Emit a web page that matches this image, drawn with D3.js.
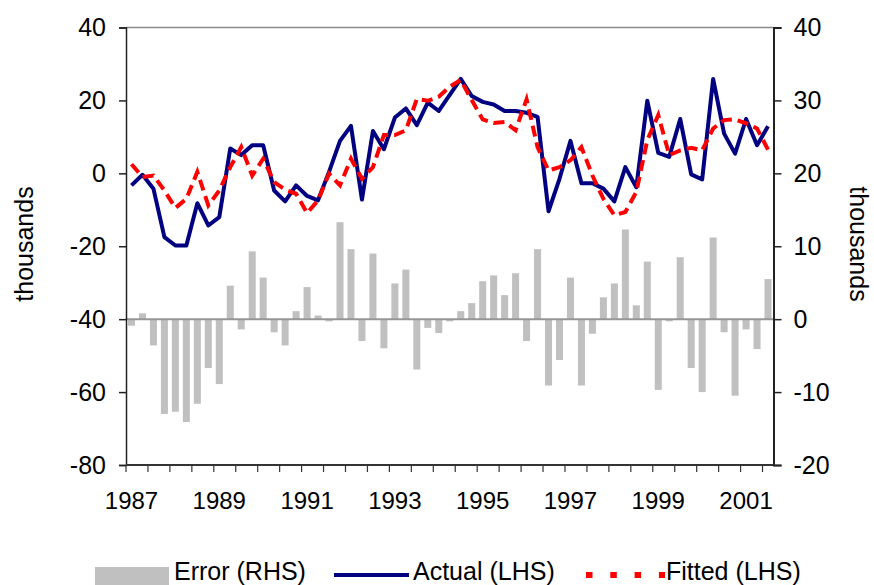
<!DOCTYPE html>
<html>
<head>
<meta charset="utf-8">
<script src="https://cdn.jsdelivr.net/npm/d3@7"></script>
<style>
  html, body { margin: 0; padding: 0; background: #fff; }
  svg { display: block; font-family: "Liberation Sans", Arial, sans-serif; }
</style>
</head>
<body>
<svg id="chart" width="874" height="585"></svg>
<script>
// ---- data ----
const years = [1987, 1988, 1989, 1990, 1991, 1992, 1993, 1994, 1995, 1996, 1997, 1998, 1999, 2000, 2001];
const quarters = ["Q1", "Q2", "Q3", "Q4"];
const categories = [];
years.forEach(y => quarters.forEach(q => categories.push(y + q)));
categories.splice(59); // 1987Q1 .. 2001Q3

const tickLabels = ["1987", "1989", "1991", "1993", "1995", "1997", "1999", "2001"];
const leftTicks = [40, 20, 0, -20, -40, -60, -80];
const rightTicks = [40, 30, 20, 10, 0, -10, -20];

const actual = [-3.3,-0.4,-4.2,-17.5,-19.8,-19.8,-8.2,-14.3,-12.0,6.8,
                5.0,7.7,7.7,-4.7,-7.7,-3.3,-6.2,-7.4,0.4,8.9,
                13.0,-7.2,11.6,6.6,15.3,17.8,13.2,19.4,17.1,21.5,
                25.9,21.2,19.6,18.9,17.1,17.1,16.6,15.5,-10.4,-1.5,
                8.9,-2.7,-2.7,-4.2,-7.7,1.7,-3.8,19.9,5.6,4.5,
                14.9,-0.3,-1.7,25.9,10.9,5.4,14.9,7.7,12.9];

const fitted = [2.5,-1.0,-0.6,-4.7,-9.5,-7.0,0.4,-8.8,-4.7,1.7,
                7.2,-0.6,4.0,-2.4,-4.5,-5.6,-10.9,-7.4,-0.1,-3.3,
                4.0,-1.5,1.7,10.5,10.5,11.8,20.4,19.9,21.0,23.8,
                25.6,20.1,14.8,13.8,14.1,11.8,20.3,7.2,0.8,1.7,
                3.6,7.2,-0.6,-7.0,-11.5,-10.6,-5.1,9.1,16.0,5.0,
                6.3,7.0,6.3,12.3,14.6,14.8,13.7,12.3,6.5];

const errors = [-0.9,0.8,-3.6,-13.0,-12.7,-14.1,-11.6,-6.7,-8.9,4.6,
                -1.4,9.3,5.7,-1.8,-3.6,1.1,4.4,0.5,-0.3,13.3,
                9.6,-3.0,9.0,-4.0,4.9,6.8,-6.9,-1.2,-1.9,-0.3,
                1.1,2.2,5.2,6.0,3.3,6.3,-3.0,9.6,-9.1,-5.6,
                5.7,-9.1,-2.0,3.0,4.9,12.3,1.9,7.9,-9.7,-0.3,
                8.5,-6.7,-10.0,11.2,-1.8,-10.5,-1.4,-4.1,5.5];

const legendLabels = ["Error (RHS)", "Actual (LHS)", "Fitted (LHS)"];

// ---- layout ----
const svg = d3.select("#chart");
const L = 126, R = 773.5, T = 27.5, B = 465;
const FONT = "Liberation Sans, Arial, sans-serif";

const x = d3.scaleBand().domain(categories).range([L, R]).paddingInner(0).paddingOuter(0);
const cx = d => x(d) + x.bandwidth() / 2;
const yL = d3.scaleLinear().domain([-80, 40]).range([B, T]);
const yR = d3.scaleLinear().domain([-20, 40]).range([B, T]);
const fmt = d => String(d); // plain hyphen-minus like the reference

// top border
svg.append("line").attr("x1", L).attr("x2", R).attr("y1", T).attr("y2", T)
  .attr("stroke", "#8c8c8c").attr("stroke-width", 1.5);

// bars (RHS)
const bw = x.bandwidth() * 0.64;
svg.append("g").selectAll("rect").data(errors).join("rect")
  .attr("x", (d, i) => cx(categories[i]) - bw / 2)
  .attr("width", bw)
  .attr("y", d => Math.min(yR(d), yR(0)))
  .attr("height", d => Math.abs(yR(d) - yR(0)))
  .attr("fill", "#c0c0c0");

// zero line of the RHS
svg.append("line").attr("x1", L).attr("x2", R).attr("y1", yR(0)).attr("y2", yR(0))
  .attr("stroke", "#969696").attr("stroke-width", 2);

// lines
const lineGen = d3.line().x((d, i) => cx(categories[i])).y(d => yL(d));
svg.append("path").datum(actual).attr("d", lineGen)
  .attr("fill", "none").attr("stroke", "#000080").attr("stroke-width", 4)
  .attr("stroke-linejoin", "round");
svg.append("path").datum(fitted).attr("d", lineGen)
  .attr("fill", "none").attr("stroke", "#ff0000").attr("stroke-width", 4)
  .attr("stroke-dasharray", "11,6");

// left axis
const axL = d3.axisLeft(yL).tickValues(leftTicks).tickSize(7).tickPadding(13).tickFormat(fmt);
const gL = svg.append("g").attr("transform", `translate(${L},0)`).call(axL);
gL.select(".domain").attr("stroke", "#222").attr("stroke-width", 1.5);
gL.selectAll(".tick line").attr("stroke", "#222").attr("stroke-width", 1.5);
gL.selectAll("text").attr("font-size", 25).attr("fill", "#000").attr("font-family", FONT);

// right axis
const axR = d3.axisRight(yR).tickValues(rightTicks).tickSize(8).tickPadding(12).tickFormat(fmt);
const gR = svg.append("g").attr("transform", `translate(${R},0)`).call(axR);
gR.select(".domain").attr("stroke", "#222").attr("stroke-width", 2);
gR.selectAll(".tick line").attr("stroke", "#222").attr("stroke-width", 1.5);
gR.selectAll("text").attr("font-size", 25).attr("fill", "#000").attr("font-family", FONT);

// bottom axis: ticks every 2 quarters at category boundaries
const tickCats = categories.filter((c, i) => i % 2 === 0);
const gB = svg.append("g");
gB.append("line").attr("x1", L).attr("x2", R).attr("y1", B).attr("y2", B)
  .attr("stroke", "#333").attr("stroke-width", 2);
gB.selectAll("line.t").data(tickCats).join("line").attr("class", "t")
  .attr("x1", d => x(d)).attr("x2", d => x(d)).attr("y1", B).attr("y2", B + 7)
  .attr("stroke", "#333").attr("stroke-width", 1.2);
gB.selectAll("text").data(tickLabels).join("text")
  .attr("x", d => cx(d + "Q1"))
  .attr("y", 509)
  .attr("text-anchor", "middle")
  .attr("font-size", 24)
  .text(d => d);

// axis titles
svg.append("text").attr("transform", "translate(33,244) rotate(-90)")
  .attr("text-anchor", "middle").attr("font-size", 25).text("thousands");
svg.append("text").attr("transform", "translate(850,244) rotate(90)")
  .attr("text-anchor", "middle").attr("font-size", 25).text("thousands");

// legend
const lg = svg.append("g");
lg.append("rect").attr("x", 95).attr("y", 567).attr("width", 74).attr("height", 18).attr("fill", "#c0c0c0");
lg.append("text").attr("x", 174).attr("y", 580).attr("font-size", 25).text(legendLabels[0]);
lg.append("line").attr("x1", 334).attr("x2", 409).attr("y1", 575).attr("y2", 575)
  .attr("stroke", "#000080").attr("stroke-width", 4);
lg.append("text").attr("x", 413).attr("y", 580).attr("font-size", 25).text(legendLabels[1]);
lg.append("line").attr("x1", 586).attr("x2", 665).attr("y1", 575).attr("y2", 575)
  .attr("stroke", "#ff0000").attr("stroke-width", 6).attr("stroke-dasharray", "6.5,17.8");
lg.append("text").attr("x", 666).attr("y", 580).attr("font-size", 25).text(legendLabels[2]);
</script>
</body>
</html>
